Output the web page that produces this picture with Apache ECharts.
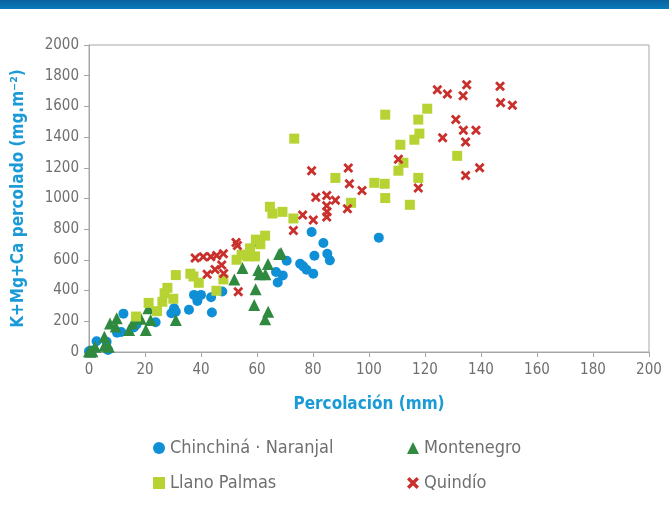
<!DOCTYPE html>
<html>
<head>
<meta charset="utf-8">
<script src="https://cdn.jsdelivr.net/npm/echarts@6/dist/echarts.min.js"></script>
<style>
  html, body { margin: 0; padding: 0; background: #fff; }
  #chart { width: 669px; height: 511px; }
</style>
</head>
<body>
<div id="chart"></div>
<script>
// Percolación (mm) vs K+Mg+Ca percolado (mg.m-2)
var chinchina = [
  [0, 5], [1, 10], [2.7, 70], [6.3, 67], [6.8, 13], [10, 126], [11.5, 130], [12.3, 250],
  [16, 160], [17, 180], [23.8, 194], [29.4, 253], [30.4, 285], [31, 262], [35.7, 275],
  [37.5, 372], [38.7, 333], [40, 372], [43.6, 357], [43.9, 257], [47.6, 394], [66.8, 521],
  [69.2, 499], [67.4, 453], [70.6, 595], [75.4, 575], [76.5, 558], [77.7, 536], [79.5, 782],
  [80.1, 510], [80.5, 627], [83.7, 710], [85.1, 640], [86, 597], [103.5, 745]
];
var montenegro = [
  [0, 5], [0.5, 2], [1.2, 5], [2.2, 35], [5.5, 100], [5.5, 40], [7.1, 35], [7.5, 185],
  [9.5, 166], [9.9, 220], [14.3, 144], [15.6, 187], [18.5, 217], [20.3, 144], [21.2, 285],
  [22, 209], [31, 209], [51.9, 472], [54.8, 547], [59.3, 725], [59.5, 409], [59, 307],
  [60.5, 534], [61, 507], [63, 507], [63.9, 573], [64, 263], [62.9, 214], [67.9, 638], [68.6, 645]
];
var llanoPalmas = [
  [16.8, 231], [21.3, 320], [24.3, 266], [26.2, 327], [27, 383], [28, 418], [30.1, 347],
  [31, 501], [36.2, 510], [37.3, 492], [39.2, 451], [45.5, 399], [48, 473], [52.7, 601],
  [54.5, 634], [56.6, 623], [59.3, 623], [57.5, 675], [59.6, 732], [61.2, 702], [62.9, 758],
  [64.6, 946], [65.5, 902], [69.1, 913], [73, 870], [73.3, 1390], [88, 1134], [93.6, 972],
  [101.9, 1102], [105.6, 1096], [105.8, 1003], [105.8, 1546], [110.5, 1181], [111.2, 1350],
  [112.3, 1233], [114.6, 959], [116.2, 1383], [117.6, 1514], [118, 1423], [117.6, 1134],
  [120.8, 1585], [131.5, 1278]
];
var quindio = [
  [37.9, 612], [40.8, 620], [43.5, 620], [45.6, 628], [48, 640], [42.2, 507], [45, 538],
  [47.4, 566], [48.1, 511], [52.5, 714], [53, 693], [53.3, 392], [73, 792], [76.3, 893],
  [80.1, 860], [79.5, 1181], [81, 1008], [84.9, 1020], [84.9, 952], [85, 913], [84.9, 880],
  [88, 989], [92.6, 1198], [93, 1096], [92.3, 934], [97.5, 1052], [110.5, 1255], [117.6, 1069],
  [124.4, 1708], [128, 1680], [134.9, 1741], [133.6, 1669], [131, 1514], [133.7, 1444],
  [138.2, 1444], [126.3, 1396], [134.5, 1368], [139.5, 1201], [134.5, 1150], [146.8, 1732],
  [147, 1623], [151.2, 1608]
];
var seriesNames = ['Chinchiná · Naranjal', 'Montenegro', 'Llano Palmas', 'Quindío'];

var crossPath = 'path://M2,0 L5,3 L8,0 L10,2 L7,5 L10,8 L8,10 L5,7 L2,10 L0,8 L3,5 L0,2 Z';
var fontFam = "'Liberation Sans Narrow', 'DejaVu Sans Condensed', 'Roboto', sans-serif";
var grey = '#6f6f6f';
var axisGrey = '#a6a6a6';

var chart = echarts.init(document.getElementById('chart'), null, { renderer: 'canvas' });

chart.setOption({
  animation: false,
  backgroundColor: '#fff',
  textStyle: { fontFamily: fontFam },
  graphic: [{
    type: 'rect',
    left: 0, top: 0,
    shape: { width: 669, height: 9 },
    style: {
      fill: new echarts.graphic.LinearGradient(0, 0, 0, 1, [
        { offset: 0, color: '#0a62a0' },
        { offset: 1, color: '#0a7abb' }
      ])
    },
    silent: true
  }],
  grid: {
    left: 89, right: 20, top: 45, bottom: 159,
    show: true, borderColor: axisGrey, borderWidth: 1
  },
  legend: [{
    orient: 'vertical',
    left: 148, top: 434,
    itemGap: 17,
    itemWidth: 12, itemHeight: 12,
    textStyle: { color: grey, fontSize: 18, fontFamily: fontFam },
    data: [
      { name: seriesNames[0], icon: 'circle' },
      { name: seriesNames[2], icon: 'rect' }
    ]
  }, {
    orient: 'vertical',
    left: 402, top: 434,
    itemGap: 17,
    itemWidth: 12, itemHeight: 12,
    textStyle: { color: grey, fontSize: 18, fontFamily: fontFam },
    data: [
      { name: seriesNames[1], icon: 'triangle' },
      { name: seriesNames[3], icon: crossPath }
    ]
  }],
  xAxis: {
    type: 'value',
    min: 0, max: 200, interval: 20,
    name: 'Percolación (mm)',
    nameLocation: 'middle',
    nameGap: 44,
    nameTextStyle: { color: '#1a9ad6', fontSize: 17, fontWeight: 'bold', fontFamily: fontFam },
    axisLine: { show: true, lineStyle: { color: axisGrey } },
    axisTick: { show: true, length: 5, lineStyle: { color: axisGrey } },
    axisLabel: { color: grey, fontSize: 15, margin: 11 },
    splitLine: { show: false }
  },
  yAxis: {
    type: 'value',
    min: 0, max: 2000, interval: 200,
    name: 'K+Mg+Ca percolado (mg.m⁻²)',
    nameLocation: 'middle',
    nameGap: 62,
    nameRotate: 90,
    nameTextStyle: { color: '#1a9ad6', fontSize: 17, fontWeight: 'bold', fontFamily: fontFam },
    axisLine: { show: true, lineStyle: { color: axisGrey } },
    axisTick: { show: true, length: 5, lineStyle: { color: axisGrey } },
    axisLabel: { color: grey, fontSize: 15, margin: 10, formatter: function (v) { return String(v); } },
    splitLine: { show: false }
  },
  series: [{
    name: seriesNames[0], type: 'scatter', data: chinchina,
    symbol: 'circle', symbolSize: 10,
    itemStyle: { color: '#0f8fd6', opacity: 1 }
  }, {
    name: seriesNames[1], type: 'scatter', data: montenegro,
    symbol: 'triangle', symbolSize: 12,
    itemStyle: { color: '#2f8a3f', opacity: 1 }
  }, {
    name: seriesNames[2], type: 'scatter', data: llanoPalmas,
    symbol: 'rect', symbolSize: 10,
    itemStyle: { color: '#b7d333', opacity: 1 }
  }, {
    name: seriesNames[3], type: 'scatter', data: quindio,
    symbol: crossPath, symbolSize: 10,
    itemStyle: { color: '#c9302c', opacity: 1 }
  }]
});
</script>
</body>
</html>
